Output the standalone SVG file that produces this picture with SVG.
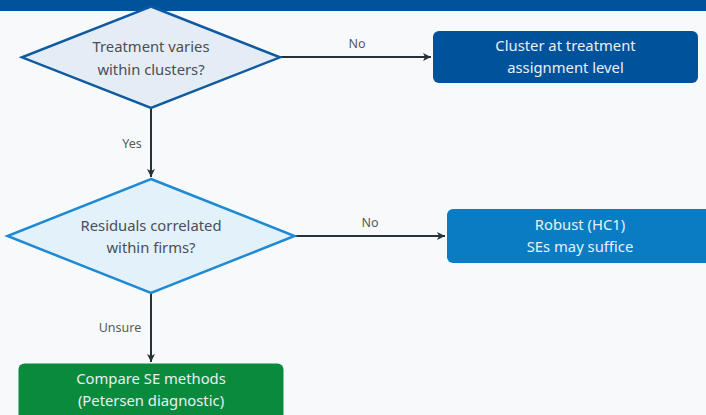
<svg xmlns="http://www.w3.org/2000/svg" width="706" height="415" viewBox="0 0 706 415">
  <defs>
    <marker id="arrow" viewBox="0 0 10 10" refX="9" refY="5" markerWidth="10" markerHeight="10" markerUnits="userSpaceOnUse" orient="auto">
      <path d="M1,1 L9,5 L1,9 L3,5 Z" fill="#263238"/>
    </marker>
    <style>
      .lbl { font-family: "Noto Sans", "Open Sans", sans-serif; font-size: 12.5px; fill: #555a5e; text-anchor: middle; }
      .dtxt { font-family: "Noto Sans", "Open Sans", sans-serif; font-size: 14.8px; fill: #4a4f54; text-anchor: middle; }
      .btxt { font-family: "Noto Sans", "Open Sans", sans-serif; font-size: 14.8px; fill: #e8f0f8; text-anchor: middle; }
      .edge { stroke: #263238; stroke-width: 2; fill: none; marker-end: url(#arrow); }
    </style>
  </defs>

  <rect x="0" y="0" width="706" height="415" fill="#f8f9fa"/>
  <rect x="0" y="0" width="706" height="11" fill="#00529b"/>

  <g id="connectors">
    <path class="edge" d="M280,57 L431,57"/>
    <text class="lbl" x="357" y="48">No</text>
    <path class="edge" d="M151,108 L151,177"/>
    <text class="lbl" x="132" y="148">Yes</text>
    <path class="edge" d="M294.5,236 L445,236"/>
    <text class="lbl" x="370" y="227">No</text>
    <path class="edge" d="M151,293 L151,362"/>
    <text class="lbl" x="120" y="332">Unsure</text>
  </g>

  <g id="q-treatment">
    <polygon points="151,6.5 280,57.3 151,108 22,57.3" fill="#e4edf6" stroke="#0f5aa0" stroke-width="2.5"/>
    <text class="dtxt" x="151" y="52">Treatment varies</text>
    <text class="dtxt" x="151" y="75">within clusters?</text>
  </g>

  <g id="a-cluster">
    <rect x="433" y="31" width="265" height="52" rx="6" fill="#00529b"/>
    <text class="btxt" x="565.5" y="51">Cluster at treatment</text>
    <text class="btxt" x="565.5" y="73">assignment level</text>
  </g>

  <g id="q-residuals">
    <polygon points="151,179 294.5,236 151,293 7.5,236" fill="#e3f1fb" stroke="#1e8ad3" stroke-width="2.5"/>
    <text class="dtxt" x="151" y="231">Residuals correlated</text>
    <text class="dtxt" x="151" y="253">within firms?</text>
  </g>

  <g id="a-robust">
    <rect x="447" y="209" width="270" height="54" rx="6" fill="#0a7cc3"/>
    <text class="btxt" x="580" y="230">Robust (HC1)</text>
    <text class="btxt" x="580" y="252">SEs may suffice</text>
  </g>

  <g id="a-compare">
    <rect x="18.5" y="363.5" width="265" height="60" rx="6" fill="#0a8a3c"/>
    <text class="btxt" x="151" y="384">Compare SE methods</text>
    <text class="btxt" x="151" y="406">(Petersen diagnostic)</text>
  </g>
</svg>
